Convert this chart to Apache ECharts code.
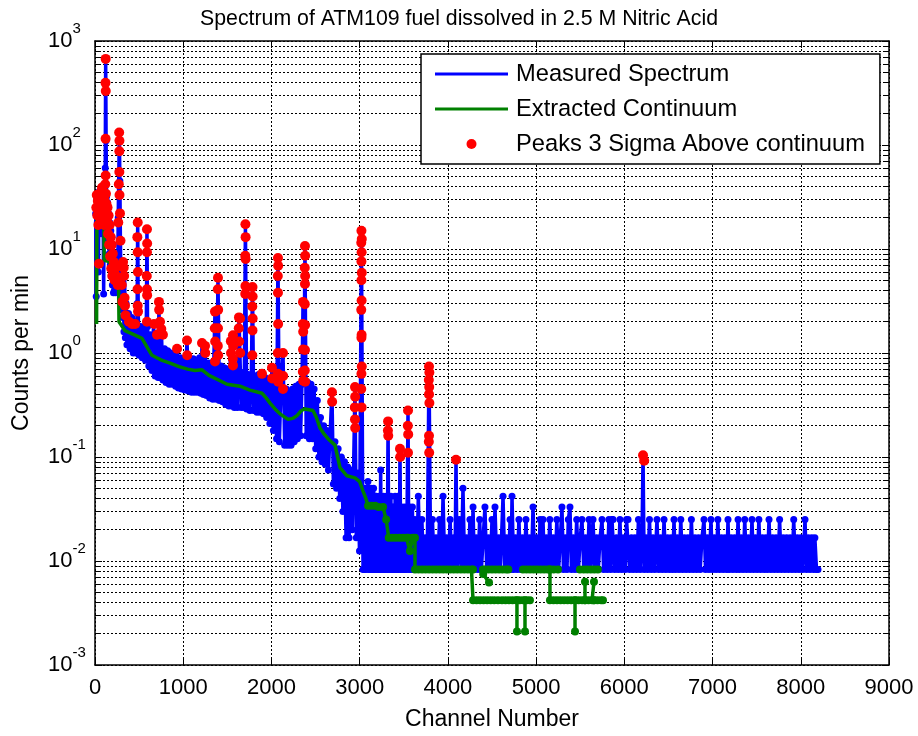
<!DOCTYPE html>
<html><head><meta charset="utf-8">
<script src="https://cdn.jsdelivr.net/npm/echarts@6/dist/echarts.min.js"></script>
<style>html,body{margin:0;padding:0;background:#fff}#c{width:918px;height:736px}</style>
</head><body><div id="c"></div>
<script>
const titleText = 'Spectrum of ATM109 fuel dissolved in 2.5 M Nitric Acid';
const xName = 'Channel Number';
const yName = 'Counts per min';
const seriesNames = ['Measured Spectrum', 'Extracted Continuum', 'Peaks 3 Sigma Above continuum'];
const xTicks = [0, 1000, 2000, 3000, 4000, 5000, 6000, 7000, 8000, 9000];
const yExponents = ['-3', '-2', '-1', '0', '1', '2', '3'];

// measured spectrum, channels 0-3040
const measuredHead = [
[8,22],[14,3.5],[20,30],[26,18],[32,34],[38,6],[44,25],[50,36],[56,20],[62,30],[68,14],[74,28],[80,38],[86,18],[92,26],[98,3.7],[104,24],[110,30],[116,60],[121,673],[126,110],[131,32],[137,18],[143,28],[149,12],[155,22],[161,9],[167,18],[173,7],[179,15],[185,5.5],[191,13],[197,4.5],[203,11],[209,3.8],[215,9],[221,4],[227,8],[233,3.8],[239,7],[245,4.5],[251,6.5],[257,4],[263,20],[270,55],[276,132],[282,45],[288,12],[294,5],[300,2.6],[306,4.5],[312,2.2],[320,7.5],[328,1.6],[336,5.5],[344,1.4],[352,3],
[362,1.2],[380,2.4],[398,1.1],[416,2.2],[434,1.0],[452,2.0],[470,1.0],[478,3],[484,18],[490,2.5],[500,0.95],[518,1.8],[536,0.9],[554,1.7],[572,0.85],[582,2],[589,15.5],[596,1.8],[610,0.75],[628,1.5],[646,0.68],[664,1.9],[682,0.6],[700,1.5],[716,0.58],[725,3.1],[734,0.58],[752,1.7],[770,0.55],[788,1.1],[806,0.52],[824,1.05],[842,0.5],[860,1.0],[878,0.5],[896,0.95],[914,0.48],[930,1.1],[946,0.46],[964,0.9],[982,0.45],[1000,0.88],[1018,0.44],[1043,1.32],[1060,0.43],[1078,0.86],[1096,0.42],[1114,0.88],[1132,0.42],[1150,0.85],[1168,0.42],[1186,0.9],[1200,0.41],[1213,1.25],[1230,0.4],[1247,1.17],[1264,0.39],[1282,0.8],[1300,0.37],
[1318,0.8],[1336,0.36],[1360,2.5],[1377,0.36],[1394,5.3],[1410,0.35],[1428,0.75],[1446,0.34],[1464,0.72],[1482,0.32],[1500,0.7],[1518,0.31],[1540,1.3],[1552,0.31],[1564,1.48],[1580,0.3],[1598,0.68],[1614,0.3],[1632,2.2],[1644,2.15],[1658,0.3],[1676,0.65],[1690,0.3],[1705,17.3],[1720,0.29],[1738,0.62],[1756,0.28],[1772,0.6],[1785,4.3],[1800,0.28],[1818,0.6],[1836,0.27],[1854,0.62],[1872,0.27],[1893,0.63],[1910,0.26],[1928,0.58],[1946,0.24],[1964,0.55],[1982,0.21],[2006,0.72],[2022,0.18],[2040,0.5],[2058,0.15],[2074,8.2],[2090,0.14],[2108,0.48],[2131,1.0],[2150,0.13],[2168,0.45],[2186,0.13],[2204,0.42],[2222,0.13],[2240,0.45],[2258,0.14],[2276,0.48],[2294,0.15],[2312,0.5],[2330,0.16],[2346,0.5],[2358,3.1],[2368,0.55],[2380,10.7],[2394,0.16],[2412,0.52],[2430,0.15],[2448,0.5],[2466,0.15],[2484,0.45],[2502,0.12],[2520,0.35],[2538,0.1],[2556,0.24],[2574,0.09],[2592,0.2],[2610,0.085],[2628,0.18],[2646,0.075],[2664,0.16],[2686,0.42],[2702,0.055],[2720,0.14],[2738,0.05],[2756,0.12],[2774,0.04],[2792,0.1],[2810,0.03],[2828,0.09],[2846,0.0167],[2864,0.08],[2880,0.0167],[2898,0.075],[2916,0.02],[2930,0.07],[2947,0.47],[2962,0.0167],[2980,0.07],[2998,0.0125],[3020,15],[3038,0.0083]
];

// measured spectrum, channels 3040-8195
const measuredTail = [
[3046,0.042],[3054,0.0083],[3062,0.05],[3070,0.0083],[3078,0.042],[3086,0.0125],[3094,0.058],[3102,0.0083],[3110,0.042],[3118,0.0083],[3126,0.05],[3134,0.0083],[3142,0.033],[3150,0.0083],[3158,0.05],[3166,0.0083],[3174,0.042],[3182,0.0083],[3190,0.042],[3198,0.0083],[3206,0.033],[3214,0.0083],[3222,0.042],[3230,0.0083],[3238,0.075],[3246,0.0083],[3254,0.033],[3262,0.0083],[3270,0.042],[3278,0.0083],[3286,0.033],[3294,0.0083],[3302,0.042],[3312,0.0083],[3322,0.22],[3330,0.0083],[3338,0.033],[3346,0.0083],[3354,0.042],[3362,0.0083],[3370,0.033],[3378,0.0083],[3386,0.033],[3394,0.0083],[3402,0.042],[3410,0.0083],[3418,0.025],[3426,0.0083],[3434,0.042],[3442,0.0083],[3450,0.0125],[3457,0.12],[3466,0.0083],[3474,0.033],[3482,0.0083],[3490,0.025],[3498,0.0083],[3506,0.033],[3514,0.0083],[3522,0.025],[3530,0.0083],[3538,0.033],[3548,0.28],[3558,0.0083],[3566,0.033],[3574,0.0083],[3582,0.025],[3590,0.0083],[3598,0.033],
[3605,0.0083],[3625,0.025],[3645,0.0083],[3665,0.042],[3685,0.0083],[3705,0.025],[3725,0.0083],[3745,0.0167],[3765,0.0083],[3786,0.74],[3805,0.0083],[3825,0.025],[3845,0.0083],[3865,0.0167],[3885,0.0083],[3905,0.025],[3925,0.0083],[3945,0.042],[3965,0.0083],[3985,0.0167],[4005,0.0083],[4025,0.025],[4045,0.0083],[4065,0.0167],[4080,0.0083],[4092,0.094],[4105,0.0083],[4130,0.025],[4150,0.0083],[4171,0.05],[4190,0.0083],[4210,0.0167],[4230,0.0083],[4250,0.025],[4270,0.0083],[4285,0.033],[4300,0.0083],[4320,0.0167],[4340,0.0083],[4360,0.025],[4380,0.0083],[4400,0.0167],[4420,0.033],[4440,0.0083],[4460,0.0167],[4480,0.0083],[4500,0.025],[4515,0.0083],[4534,0.033],[4555,0.0083],[4575,0.0167],[4595,0.0083],[4625,0.042],[4645,0.0083],[4665,0.0167],[4685,0.0083],[4705,0.025],[4715,0.0083],[4727,0.042],[4745,0.0083],[4765,0.0167],[4785,0.0083],[4805,0.025],[4825,0.0083],[4845,0.0167],[4865,0.0083],[4885,0.025],[4905,0.0083],[4925,0.0167],[4945,0.0083],[4965,0.033],[4985,0.0083],[5005,0.0167],[5025,0.0083],[5045,0.025],[5060,0.0083],[5078,0.025],[5095,0.0083],[5115,0.0167],[5135,0.0083],[5155,0.025],[5175,0.0083],[5195,0.0167],[5215,0.0083],[5235,0.025],[5255,0.0083],[5275,0.0167],[5293,0.033],[5310,0.0083],[5330,0.0167],[5350,0.0083],[5365,0.025],[5384,0.033],[5400,0.0083],[5420,0.0167],[5440,0.0083],[5460,0.025],[5480,0.0083],[5500,0.0167],[5520,0.025],[5540,0.0083],[5560,0.0167],[5580,0.0083],[5600,0.025],[5620,0.0083],[5645,0.025],[5665,0.0083],[5685,0.0167],[5705,0.0083],[5725,0.0167],[5747,0.025],[5765,0.0083],[5785,0.0167],[5805,0.0083],[5825,0.025],[5845,0.0083],[5860,0.025],[5872,0.025],[5890,0.0083],[5910,0.0167],[5930,0.0083],[5950,0.025],[5970,0.0083],[5990,0.0167],[6010,0.0083],[6025,0.025],[6042,0.025],[6060,0.0083],[6080,0.0167],[6100,0.0083],[6120,0.0167],[6140,0.0083],[6160,0.025],[6180,0.0083],[6200,0.0167],[6212,0.104],[6225,0.0083],[6245,0.0167],[6265,0.0083],[6285,0.025],[6305,0.0083],[6325,0.0167],[6345,0.0083],[6370,0.025],[6390,0.0083],[6410,0.0167],[6430,0.0083],[6450,0.025],[6470,0.0083],[6490,0.0167],[6510,0.0083],[6530,0.0167],[6545,0.0083],[6563,0.025],[6580,0.0083],[6600,0.0167],[6620,0.0083],[6640,0.025],[6660,0.0083],[6680,0.0167],[6700,0.0083],[6720,0.0167],[6740,0.0083],[6760,0.025],[6780,0.0083],[6800,0.0167],[6820,0.0083],[6840,0.0167],[6860,0.0083],[6880,0.0167],[6903,0.025],[6920,0.0083],[6940,0.0167],[6960,0.0083],[6982,0.025],[7000,0.0083],[7020,0.0167],[7040,0.0083],[7060,0.025],[7080,0.0083],[7100,0.0167],[7120,0.0083],[7140,0.0167],[7160,0.0083],[7175,0.025],[7190,0.0083],[7210,0.0167],[7230,0.0083],[7250,0.0167],[7270,0.0083],[7289,0.025],[7305,0.0083],[7325,0.0167],[7345,0.0083],[7365,0.025],[7385,0.0083],[7405,0.0167],[7425,0.0083],[7447,0.025],[7465,0.0083],[7485,0.0167],[7505,0.0083],[7525,0.025],[7545,0.0083],[7565,0.0167],[7585,0.0083],[7605,0.0167],[7620,0.0083],[7640,0.025],[7660,0.0083],[7680,0.0167],[7700,0.0083],[7720,0.0167],[7740,0.0083],[7760,0.025],[7780,0.0083],[7800,0.0167],[7820,0.0083],[7840,0.0167],[7860,0.0083],[7880,0.0167],[7900,0.0083],[7920,0.025],[7940,0.0083],[7960,0.0167],[7980,0.0083],[8000,0.0167],[8020,0.0083],[8048,0.025],[8065,0.0083],[8085,0.0167],[8105,0.0083],[8125,0.0167],[8145,0.0083],[8160,0.0167],[8178,0.0083],[8195,0.0083]
];

// extracted continuum, channels 0-3640
const continuumHead = [
[18,1.9],[22,22],[50,24],[90,21],[100,20],[104,7.8],[150,7.6],[200,7.0],[266,5.2],[272,2.0],[340,1.64],[440,1.5],[533,1.38],[600,1.1],[646,0.95],[700,0.9],[760,0.85],[850,0.8],[952,0.74],[1050,0.7],[1133,0.68],[1213,0.69],[1292,0.61],[1400,0.55],[1496,0.5],[1570,0.49],[1644,0.48],[1700,0.46],[1757,0.44],[1893,0.41],[1940,0.37],[1984,0.33],[2040,0.29],[2097,0.26],[2188,0.23],[2240,0.235],[2290,0.25],[2340,0.28],[2380,0.29],[2471,0.28],[2510,0.24],[2550,0.19],[2600,0.165],[2641,0.15],[2720,0.13],[2750,0.1],[2777,0.079],[2856,0.066],[2947,0.063],[3000,0.058],[3038,0.047],[3070,0.04],[3095,0.034],[3135,0.034],[3175,0.034],[3215,0.033],[3265,0.033],[3300,0.025],[3330,0.0167],[3370,0.0167],[3410,0.0167],[3450,0.0167],[3490,0.0167],[3530,0.0167],[3550,0.0167],[3570,0.0125],[3600,0.0167],[3627,0.0167],[3627,0.0083]
];

// extracted continuum, channels 3640-5760 ('-' = zero, not drawn on log axis)
const continuumTail = [
[3667,0.0083],[3707,0.0083],[3747,0.0083],[3787,0.0083],[3827,0.0083],[3867,0.0083],[3907,0.0083],[3947,0.0083],[3987,0.0083],[4027,0.0083],[4067,0.0083],[4107,0.0083],[4147,0.0083],[4187,0.0083],[4227,0.0083],[4267,0.0083],[4285,0.0083],[4285,0.0042],[4325,0.0042],[4365,0.0042],[4405,0.0042],[4445,0.0042],[4485,0.0042],[4525,0.0042],[4568,0.0042],[4570,'-'],
[4398,0.0083],[4400,0.0075],[4466,0.0062],[4470,'-'],
[4420,0.0083],[4460,0.0083],[4500,0.0083],[4540,0.0083],[4580,0.0083],[4620,0.0083],[4660,0.0083],[4685,0.0083],[4690,'-'],
[4613,0.0042],[4653,0.0042],[4693,0.0042],[4733,0.0042],[4773,0.0042],[4813,0.0042],[4853,0.0042],[4893,0.0042],[4930,0.0042],[4935,'-'],
[4783,0.0042],[4783,0.0021],[4790,'-'],
[4874,0.0042],[4874,0.0021],[4880,'-'],
[4851,0.0083],[4891,0.0083],[4931,0.0083],[4971,0.0083],[5011,0.0083],[5051,0.0083],[5091,0.0083],[5131,0.0083],[5157,0.0083],[5157,0.0042],[5197,0.0042],[5237,0.0042],[5277,0.0042],[5317,0.0042],[5357,0.0042],[5397,0.0042],[5441,0.0042],[5441,0.0021],[5445,'-'],
[5157,0.0083],[5200,0.0083],[5248,0.0083],[5250,'-'],
[5441,0.0042],[5481,0.0042],[5521,0.0042],[5554,0.0042],[5554,0.0063],[5560,'-'],
[5554,0.0042],[5594,0.0042],[5634,0.0042],[5656,0.0042],[5656,0.0063],[5660,'-'],
[5656,0.0042],[5696,0.0042],[5736,0.0042],[5758,0.0042],[5760,'-'],
[5497,0.0083],[5540,0.0083],[5580,0.0083],[5620,0.0083],[5660,0.0083],[5700,0.0083]
];

// channels flagged as peaks 3 sigma above continuum
const peakPoints = [
[15,25],[20,33],[26,21],[32,29],[38,17],[45,7.2],[50,31],[56,23],[62,35],[68,19],[74,27],[80,39],[86,21],[92,30],[98,24],[104,17],[110,29],[116,42],[121,673],[119,396],[122,331],[120,115],[121,51],[124,34],[130,27],[136,19],[142,25],[148,14],[154,21],[160,11],[166,17],[172,8.5],[178,13],[184,6.5],[190,11],[196,5.5],[202,9],[208,6],[214,7.5],[222,5],[230,6.5],[240,5.5],[250,5],[258,4.5],[264,18],[270,42],[274,132],[277,110],[276,87],[276,55],[278,33],[283,22],[289,12],[296,7],[304,4.5],[311,3.1],[318,7.5],[325,6.6],[330,5.5],[335,3.4],[340,2.85],[346,2.3],[385,2.0],[420,1.9],[455,1.9],
[484,18],[480,13],[484,9.3],[486,6.0],[482,4.1],[484,2.85],[488,2.5],
[589,15.5],[591,11.3],[589,9.3],[587,5.5],[589,4.1],[591,3.6],[589,2.0],
[669,1.9],[703,1.5],[725,3.1],[727,2.6],[737,2.0],[752,1.7],[770,1.5],
[930,1.1],[1043,1.32],[1045,0.95],[1213,1.25],[1247,1.17],[1250,1.0],
[1360,2.5],[1358,1.73],[1362,1.29],[1360,0.83],
[1394,5.3],[1392,4.1],[1396,2.6],[1394,1.73],[1392,1.17],[1396,0.95],
[1540,1.3],[1542,1.0],[1564,1.48],[1566,1.17],[1562,0.88],[1564,0.76],
[1632,2.2],[1630,1.73],[1634,1.29],[1644,2.15],[1646,1.0],
[1705,17.3],[1707,13],[1703,8.6],[1707,8],[1705,4.4],[1703,3.7],
[1785,4.3],[1787,3.5],[1783,2.8],[1787,2.15],[1785,1.65],[1783,0.95],
[1893,0.63],[2006,0.72],[2008,0.57],
[2074,8.2],[2076,6.9],[2072,5.5],[2074,3.8],[2076,1.9],[2072,1.0],[2074,0.63],[2076,0.53],
[2131,1.0],[2133,0.6],[2131,0.45],
[2358,3.1],[2356,1.9],[2360,1.6],[2358,1.08],[2356,0.66],[2360,0.54],
[2380,10.7],[2382,8.6],[2378,6.6],[2382,5.5],[2380,4.6],[2378,2.95],[2382,1.86],[2380,1.07],[2378,0.68],[2382,0.53],
[2686,0.42],[2688,0.34],
[2947,0.47],[2949,0.38],[2945,0.3],[2947,0.23],[2949,0.19],
[3020,15],[3024,12.5],[3018,11.5],[3022,9.3],[3020,7.6],[3024,5.9],[3020,5.0],[3022,3.2],[3018,2.6],[3022,1.5],[3020,1.4],[3024,0.74],[3020,0.63],[3018,0.45],[3022,0.3],
[3322,0.22],[3320,0.18],[3324,0.16],
[3457,0.12],[3459,0.10],
[3548,0.28],[3546,0.2],[3550,0.165],[3548,0.11],
[3786,0.74],[3790,0.65],[3784,0.55],[3788,0.47],[3786,0.4],[3790,0.33],[3786,0.16],[3784,0.14],[3788,0.11],
[4092,0.094],[6212,0.104],[6225,0.092]
];

const FONT = '"Liberation Sans", Arial, Helvetica, sans-serif';
const chart = echarts.init(document.getElementById('c'), null, {renderer: 'canvas'});
const dotted = {color: '#000', type: [2, 2], width: 1};
const yMin = Math.pow(10, Number(yExponents[0]));
const yMax = Math.pow(10, Number(yExponents[yExponents.length - 1]));
function yLabel(v) {
  const i = Math.round(Math.log10(v)) - Number(yExponents[0]);
  return '{b|10}{s|' + yExponents[i] + '}';
}
const xBase = {
  type: 'value', min: xTicks[0], max: xTicks[xTicks.length - 1], interval: xTicks[1] - xTicks[0],
  axisLine: {show: true, onZero: false, lineStyle: {color: '#000', width: 1.5}},
  axisTick: {show: true, inside: true, length: 7, lineStyle: {color: '#000', width: 1}}
};
const yBase = {
  type: 'log', logBase: 10, min: yMin, max: yMax,
  axisLine: {show: true, onZero: false, lineStyle: {color: '#000', width: 1.5}},
  axisTick: {show: true, inside: true, length: 7, lineStyle: {color: '#000', width: 1}},
  minorTick: {show: true, splitNumber: 9, length: 4, lineStyle: {color: '#000', width: 1}}
};
const option = {
  animation: false,
  backgroundColor: '#fff',
  title: {text: titleText, left: 'center', top: 4,
    textStyle: {fontSize: 21.3, fontWeight: 'normal', color: '#000', fontFamily: FONT}},
  grid: {left: 95, right: 29, top: 41, bottom: 68, containLabel: false},
  legend: {
    orient: 'vertical', left: 421, top: 54, padding: [8, 15, 8, 14],
    itemWidth: 73, itemHeight: 10, itemGap: 11,
    backgroundColor: '#fff', borderColor: '#000', borderWidth: 1.5,
    selectedMode: false,
    itemStyle: {borderWidth: 0},
    textStyle: {fontSize: 23.7, color: '#000', fontFamily: FONT, padding: [0, 0, 0, 3]},
    data: [
      {name: seriesNames[0], icon: 'path://M0,0H73V3H0Z'},
      {name: seriesNames[1], icon: 'path://M0,0H73V3H0Z'},
      {name: seriesNames[2], icon: 'circle'}
    ]
  },
  xAxis: [
    Object.assign({}, xBase, {
      position: 'bottom',
      axisLabel: {show: true, color: '#000', fontSize: 22, fontFamily: FONT, margin: 12, formatter: v => String(v)},
      splitLine: {show: true, lineStyle: dotted},
      name: xName, nameLocation: 'middle', nameGap: 43,
      nameTextStyle: {fontSize: 23, color: '#000', fontFamily: FONT}
    }),
    Object.assign({}, xBase, {position: 'top', axisLabel: {show: false}, splitLine: {show: false}})
  ],
  yAxis: [
    Object.assign({}, yBase, {
      position: 'left',
      axisLabel: {show: true, margin: 47, align: 'left', formatter: yLabel,
        rich: {
          b: {fontSize: 22, color: '#000', fontFamily: FONT, lineHeight: 40, verticalAlign: 'middle'},
          s: {fontSize: 15, color: '#000', fontFamily: FONT, lineHeight: 16, verticalAlign: 'top'}
        }},
      splitLine: {show: true, lineStyle: dotted},
      minorSplitLine: {show: true, lineStyle: dotted},
      name: yName, nameLocation: 'middle', nameGap: 62,
      nameTextStyle: {fontSize: 23, color: '#000', fontFamily: FONT}
    }),
    Object.assign({}, yBase, {position: 'right', axisLabel: {show: false}, splitLine: {show: false}, minorSplitLine: {show: false}})
  ],
  series: [
    {
      name: seriesNames[0], type: 'line', xAxisIndex: 0, yAxisIndex: 0,
      data: measuredHead.concat(measuredTail),
      symbol: 'circle', symbolSize: 7, showSymbol: true,
      lineStyle: {color: '#0000ff', width: 3.5},
      itemStyle: {color: '#0000ff', borderWidth: 0},
      z: 2, silent: true
    },
    {
      name: seriesNames[1], type: 'line', xAxisIndex: 0, yAxisIndex: 0,
      data: continuumHead.concat(continuumTail),
      connectNulls: false,
      symbol: 'circle', showSymbol: true,
      symbolSize: v => (v[0] >= 3090 ? 8 : 0),
      lineStyle: {color: '#008000', width: 3.5},
      itemStyle: {color: '#008000', borderWidth: 0},
      z: 3, silent: true
    },
    {
      name: seriesNames[2], type: 'scatter', xAxisIndex: 0, yAxisIndex: 0,
      data: peakPoints, symbol: 'circle', symbolSize: 10,
      itemStyle: {color: '#ff0000', borderWidth: 0, opacity: 1},
      z: 4, silent: true
    }
  ]
};
chart.setOption(option);
</script>
</body></html>
